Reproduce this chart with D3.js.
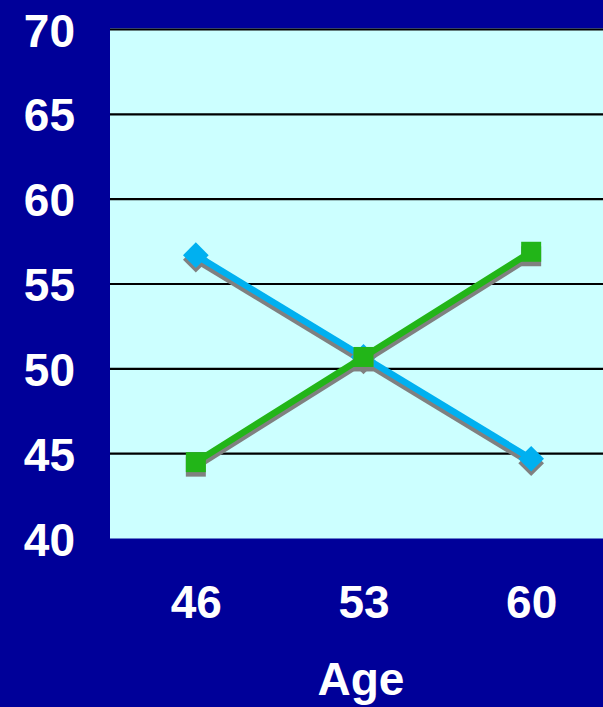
<!DOCTYPE html>
<html>
<head>
<meta charset="utf-8">
<script src="https://cdn.jsdelivr.net/npm/d3@7"></script>
<style>
  html, body { margin: 0; padding: 0; background: #000099; }
  svg { display: block; }
  text { font-family: "Liberation Sans", Arial, sans-serif; font-weight: bold; fill: #ffffff; }
</style>
</head>
<body>
<svg id="chart" width="603" height="707"></svg>
<script>
// Age groups on the x axis
const ages = ["46", "53", "60"];
// Two crossing series
const blueValues = [56.7, 50.7, 44.7];
const greenValues = [44.5, 50.7, 56.9];
// Y axis ticks
const yTicks = [40, 45, 50, 55, 60, 65, 70];
const xTitle = "Age";

const W = 603, H = 707;
const plot = { left: 110, top: 29.5, right: 603, bottom: 538.5 };

const svg = d3.select("#chart");

svg.append("rect").attr("width", W).attr("height", H).attr("fill", "#000099");

const x = d3.scalePoint().domain(ages).range([112, 615]).padding(0.5);
const y = d3.scaleLinear().domain([40, 70]).range([plot.bottom, plot.top]);

// Plot background
svg.append("rect")
  .attr("x", plot.left).attr("y", plot.top - 1)
  .attr("width", plot.right - plot.left)
  .attr("height", plot.bottom - plot.top + 1)
  .attr("fill", "#ccffff");

// Horizontal grid lines
svg.append("g").selectAll("line")
  .data(yTicks.filter(t => t > 40))
  .join("line")
  .attr("x1", plot.left).attr("x2", plot.right)
  .attr("y1", d => y(d)).attr("y2", d => y(d))
  .attr("stroke", "#000000").attr("stroke-width", 2.2);

// Y tick labels
const yAxis = d3.axisLeft(y).tickValues(yTicks).tickSize(0).tickPadding(0).tickFormat(d3.format("d"));
const gy = svg.append("g").attr("transform", "translate(75,0)").call(yAxis);
gy.select(".domain").remove();
gy.selectAll("text")
  .attr("fill", "#ffffff")
  .attr("font-size", 46)
  .attr("font-family", "Liberation Sans, Arial, sans-serif")
  .attr("font-weight", "bold")
  .attr("dy", null)
  .attr("y", 16.5)
  .attr("text-anchor", "end");

// X tick labels
const xAxis = d3.axisBottom(x).tickSize(0).tickPadding(0);
const gx = svg.append("g").attr("transform", "translate(0,618)").call(xAxis);
gx.select(".domain").remove();
gx.selectAll("text")
  .attr("fill", "#ffffff")
  .attr("font-size", 46)
  .attr("font-family", "Liberation Sans, Arial, sans-serif")
  .attr("font-weight", "bold")
  .attr("dy", null)
  .attr("y", 0);

// Axis title
svg.append("text")
  .attr("x", 361).attr("y", 695)
  .attr("text-anchor", "middle")
  .attr("font-size", 46)
  .text(xTitle);

const series = [
  { values: blueValues, color: "#00b0f0", shape: "diamond" },
  { values: greenValues, color: "#22b518", shape: "square" }
];

const line = d3.line().x((d, i) => x(ages[i])).y(d => y(d));
const shadowDx = 0, shadowDy = 4.5;

function drawMarkers(g, s, fill, dx, dy) {
  const size = s.shape === "square" ? 400 : 330;
  g.selectAll("path.m")
    .data(s.values)
    .join("path")
    .attr("class", "m")
    .attr("d", d3.symbol(d3.symbolSquare, size)())
    .attr("transform", (d, i) =>
      `translate(${x(ages[i]) + dx},${y(d) + dy})` + (s.shape === "diamond" ? " rotate(45)" : ""))
    .attr("fill", fill);
}

series.forEach(s => {
  const g = svg.append("g");
  // drop shadow
  const sh = g.append("g");
  sh.append("path")
    .datum(s.values)
    .attr("d", line)
    .attr("transform", `translate(${shadowDx},${shadowDy})`)
    .attr("fill", "none")
    .attr("stroke", "#808080")
    .attr("stroke-width", 6.5);
  drawMarkers(sh, s, "#808080", shadowDx, shadowDy);
  // series line and markers
  g.append("path")
    .datum(s.values)
    .attr("d", line)
    .attr("fill", "none")
    .attr("stroke", s.color)
    .attr("stroke-width", 6.5);
  drawMarkers(g.append("g"), s, s.color, 0, 0);
});
</script>
</body>
</html>
